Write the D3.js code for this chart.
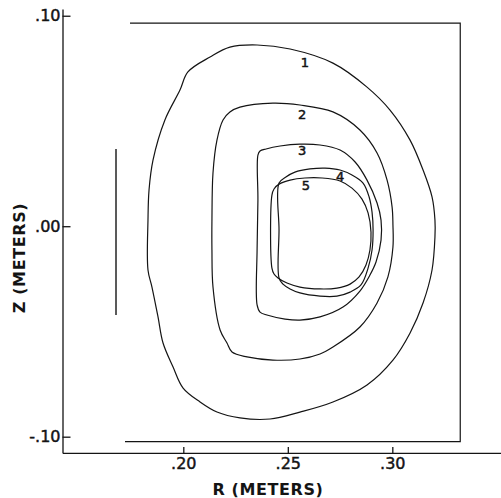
<!DOCTYPE html>
<html>
<head>
<meta charset="utf-8">
<script src="https://cdn.jsdelivr.net/npm/d3@7"></script>
<style>
  body { margin: 0; background: #fff; }
  svg { display: block; }
</style>
</head>
<body>
<svg id="chart" width="501" height="498"></svg>
<script>
// Flux contours in the (R, Z) plane, metres. Each contour is a closed loop of [R, Z] points.
const contour1 = [[0.2022,0.0733],[0.2128,0.0804],[0.2223,0.0851],[0.2353,0.0861],[0.2511,0.0842],[0.2716,0.0775],[0.2879,0.0661],[0.2989,0.0552],[0.3085,0.0409],[0.3147,0.0267],[0.3190,0.0139],[0.3204,0.0029],[0.3204,-0.0051],[0.3190,-0.0208],[0.3147,-0.0365],[0.3085,-0.0507],[0.3003,-0.0636],[0.2879,-0.0754],[0.2716,-0.0835],[0.2558,-0.0883],[0.2415,-0.0916],[0.2271,-0.0911],[0.2161,-0.0883],[0.2080,-0.0835],[0.1999,-0.0769],[0.1951,-0.0669],[0.1903,-0.0555],[0.1879,-0.0431],[0.1850,-0.0289],[0.1831,-0.0208],[0.1831,0.0029],[0.1836,0.0172],[0.1855,0.0314],[0.1912,0.0505],[0.1984,0.0647]];
const contour2 = [[0.2137,0.0029],[0.2142,0.0253],[0.2161,0.0409],[0.2190,0.0505],[0.2223,0.0543],[0.2271,0.0566],[0.2429,0.0585],[0.2558,0.0576],[0.2716,0.0543],[0.2845,0.0457],[0.2927,0.0348],[0.2975,0.0219],[0.2999,0.0091],[0.3003,0.0006],[0.3003,-0.0099],[0.2979,-0.0241],[0.2927,-0.0365],[0.2845,-0.0479],[0.2716,-0.0574],[0.2654,-0.0607],[0.2558,-0.0631],[0.2429,-0.0636],[0.2305,-0.0621],[0.2233,-0.0598],[0.2209,-0.0555],[0.2176,-0.0493],[0.2142,-0.0289],[0.2137,-0.0113]];
const contour3 = [[0.2357,0.0338],[0.2367,0.0357],[0.2396,0.0367],[0.2463,0.0381],[0.2558,0.0390],[0.2654,0.0386],[0.2750,0.0362],[0.2822,0.0305],[0.2879,0.0219],[0.2927,0.0110],[0.2946,0.0029],[0.2946,-0.0066],[0.2922,-0.0170],[0.2893,-0.0232],[0.2845,-0.0308],[0.2764,-0.0384],[0.2654,-0.0431],[0.2558,-0.0446],[0.2487,-0.0441],[0.2400,-0.0422],[0.2367,-0.0408],[0.2353,-0.0374],[0.2353,-0.0113],[0.2357,0.0124]];
const contour4 = [[0.2458,0.0205],[0.2491,0.0234],[0.2534,0.0257],[0.2606,0.0272],[0.2678,0.0276],[0.2750,0.0267],[0.2807,0.0243],[0.2860,0.0205],[0.2889,0.0139],[0.2903,0.0067],[0.2908,-0.0018],[0.2903,-0.0113],[0.2884,-0.0199],[0.2850,-0.0279],[0.2798,-0.0313],[0.2735,-0.0332],[0.2654,-0.0332],[0.2558,-0.0317],[0.2511,-0.0298],[0.2477,-0.0275],[0.2458,-0.0246],[0.2458,-0.0018]];
const contour5 = [[0.2424,-0.0199],[0.2424,0.0148],[0.2434,0.0177],[0.2458,0.0200],[0.2511,0.0219],[0.2582,0.0229],[0.2664,0.0229],[0.2750,0.0215],[0.2807,0.0181],[0.2855,0.0129],[0.2884,0.0063],[0.2898,-0.0028],[0.2893,-0.0113],[0.2874,-0.0184],[0.2841,-0.0241],[0.2798,-0.0275],[0.2735,-0.0294],[0.2654,-0.0298],[0.2558,-0.0289],[0.2496,-0.0270],[0.2453,-0.0246],[0.2434,-0.0227]];

// Contour numbers and where they are written, [R, Z]
const contourNames = ["1", "2", "3", "4", "5"];
const labelSpots = [[0.2582,0.0780],[0.2568,0.0533],[0.2568,0.0362],[0.2750,0.0238],[0.2587,0.0196]];

// Vessel wall outline and centre column, [R, Z]
const vessel = [[0.1745,0.0965],[0.3325,0.0965],[0.3325,-0.1023],[0.1721,-0.1023]];
const column = [[0.1678,0.0367],[0.1678,-0.0422]];

// Axis extents and ticks
const rExtent = [0.1422, 0.352];
const zExtent = [-0.1077, 0.1032];
const rTicks = [0.20, 0.25, 0.30];
const zTicks = [-0.10, 0.00, 0.10];

const svg = d3.select("#chart");
const ink = "#141414";
const fontFamily = "'DejaVu Sans', sans-serif";

const x = d3.scaleLinear().domain(rExtent).range([62.5, 501]);
const y = d3.scaleLinear().domain(zExtent).range([452.9, 9]);

const fmt = d => (d < 0 ? "-" : "") + d3.format(".2f")(Math.abs(d)).slice(1);

// Axes: ticks point into the plot
function styleAxis(g) {
  g.attr("font-family", fontFamily).attr("font-size", 16);
  g.selectAll("path, line").attr("stroke", ink).attr("stroke-width", 1.3);
  g.selectAll("text").attr("fill", ink)
    .attr("stroke", ink).attr("stroke-width", 0.45);
}

svg.append("g")
  .attr("transform", `translate(0,${y(zExtent[0])})`)
  .call(d3.axisBottom(x).tickValues(rTicks).tickFormat(fmt)
    .tickSizeInner(-6).tickSizeOuter(0).tickPadding(5))
  .call(styleAxis);

svg.append("g")
  .attr("transform", `translate(${x(rExtent[0])},0)`)
  .call(d3.axisLeft(y).tickValues(zTicks).tickFormat(fmt)
    .tickSizeInner(-8).tickSizeOuter(0).tickPadding(2))
  .call(styleAxis);

// Axis titles
svg.append("text")
  .attr("x", 268).attr("y", 495)
  .attr("text-anchor", "middle")
  .attr("font-family", fontFamily).attr("font-size", 16)
  .attr("font-weight", "bold")
  .attr("letter-spacing", 0.6)
  .attr("fill", ink)
  .text("R (METERS)");

svg.append("text")
  .attr("transform", "translate(25,258) rotate(-90)")
  .attr("text-anchor", "middle")
  .attr("font-family", fontFamily).attr("font-size", 16)
  .attr("font-weight", "bold")
  .attr("letter-spacing", 0.6)
  .attr("fill", ink)
  .text("Z (METERS)");

// Vessel wall and centre column
const straight = d3.line().x(d => x(d[0])).y(d => y(d[1]));
svg.append("path").attr("d", straight(vessel))
  .attr("fill", "none").attr("stroke", ink).attr("stroke-width", 1.2);
svg.append("path").attr("d", straight(column))
  .attr("fill", "none").attr("stroke", ink).attr("stroke-width", 1.4);

// Contours
const loop = d3.line()
  .x(d => x(d[0])).y(d => y(d[1]))
  .curve(d3.curveCatmullRomClosed.alpha(0.5));

const contours = [contour1, contour2, contour3, contour4, contour5];
svg.append("g").selectAll("path")
  .data(contours)
  .join("path")
  .attr("d", loop)
  .attr("fill", "none")
  .attr("stroke", ink)
  .attr("stroke-width", 1.2);

svg.append("g").selectAll("text")
  .data(contourNames)
  .join("text")
  .attr("x", (d, i) => x(labelSpots[i][0]))
  .attr("y", (d, i) => y(labelSpots[i][1]))
  .attr("dy", "0.36em")
  .attr("text-anchor", "middle")
  .attr("font-family", fontFamily)
  .attr("font-size", 13)
  .attr("fill", ink)
  .attr("stroke", ink)
  .attr("stroke-width", 0.5)
  .text(d => d);
</script>
</body>
</html>
